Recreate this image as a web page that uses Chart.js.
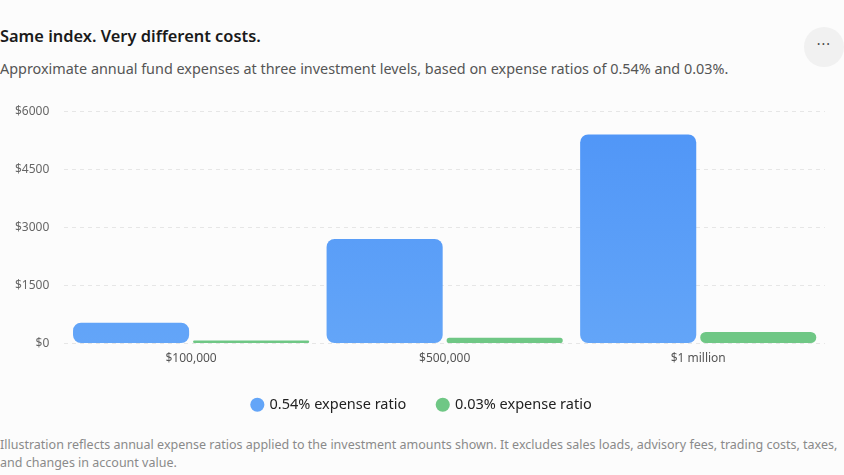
<!DOCTYPE html>
<html>
<head>
<meta charset="utf-8">
<script src="https://cdn.jsdelivr.net/npm/chart.js@4/dist/chart.umd.min.js"></script>
<style>
  html, body { margin: 0; padding: 0; background: #fcfcfc; }
  body { width: 844px; height: 475px; position: relative; overflow: hidden; font-family: "Noto Sans", "Open Sans", sans-serif; }
  h1 { position: absolute; left: 0; top: 24px; margin: 0; font-size: 16.4px; font-weight: 600; color: #1a1a1a; }
  .sub { position: absolute; left: 0; top: 59px; margin: 0; font-size: 14.4px; color: #555; }
  .more { position: absolute; left: 804px; top: 27px; width: 40px; height: 40px; border-radius: 50%; background: #f1f1f1; color: #444; font-size: 14px; line-height: 34px; text-align: center; letter-spacing: 1px; }
  .wrap { position: absolute; left: 0; top: 89px; width: 844px; height: 333px; }
  .note { position: absolute; left: 0; top: 436px; margin: 0; font-size: 12.5px; line-height: 18px; color: #8a8a8a; }
</style>
</head>
<body>
<h1>Same index. Very different costs.</h1>
<p class="sub">Approximate annual fund expenses at three investment levels, based on expense ratios of 0.54% and 0.03%.</p>
<div class="more">···</div>
<div class="wrap"><canvas id="c"></canvas></div>
<p class="note">Illustration reflects annual expense ratios applied to the investment amounts shown. It excludes sales loads, advisory fees, trading costs, taxes,<br>and changes in account value.</p>
<script>
const categories = ['$100,000', '$500,000', '$1 million'];
const highCost = [540, 2700, 5400];   // 0.54% expense ratio
const lowCost = [30, 150, 300];       // 0.03% expense ratio
const seriesNames = ['0.54% expense ratio', '0.03% expense ratio'];
const yTicks = [0, 1500, 3000, 4500, 6000];

function blueFill(ctx) {
  const area = ctx.chart.chartArea;
  if (!area) return '#559bf7';
  const g = ctx.chart.ctx.createLinearGradient(0, area.top, 0, area.bottom);
  g.addColorStop(0, '#4f95f7');
  g.addColorStop(1, '#63a5f8');
  return g;
}

// legend is centred on the whole card, not just the plot
const centreLegend = {
  id: 'centreLegend',
  afterLayout(chart) {
    const lg = chart.legend;
    const shift = (chart.width - (lg.left + lg.right)) / 2;
    lg.left += shift;
    lg.right += shift;
  }
};

const font = { family: '"Noto Sans", "Open Sans", sans-serif' };

new Chart(document.getElementById('c'), {
  type: 'bar',
  data: {
    labels: categories,
    datasets: [
      { label: seriesNames[0], data: highCost, backgroundColor: blueFill },
      { label: seriesNames[1], data: lowCost, backgroundColor: '#6fc785' }
    ]
  },
  options: {
    responsive: true,
    maintainAspectRatio: false,
    animation: false,
    layout: { padding: { left: 0, right: 19, top: 0, bottom: 0 } },
    datasets: {
      bar: {
        categoryPercentage: 0.947,
        barPercentage: 0.967,
        borderRadius: 8,
        borderSkipped: false,
        minBarLength: 3
      }
    },
    scales: {
      x: {
        grid: { display: false },
        border: { display: false },
        ticks: { color: '#555', font: { ...font, size: 12 }, padding: 0 }
      },
      y: {
        min: 0,
        max: 6000,
        afterBuildTicks: axis => { axis.ticks = yTicks.map(v => ({ value: v })); },
        grid: { color: '#e6e6e6', drawTicks: false },
        border: { display: false, dash: [4, 4] },
        ticks: {
          color: '#666',
          font: { ...font, size: 12 },
          padding: 15,
          callback: v => '$' + v
        }
      }
    },
    plugins: {
      legend: {
        position: 'bottom',
        labels: {
          usePointStyle: true,
          pointStyle: 'circle',
          boxWidth: 10,
          boxHeight: 10,
          padding: 31.5,
          color: '#222',
          font: { ...font, size: 14.5 }
        }
      },
      tooltip: { enabled: false }
    }
  },
  plugins: [centreLegend]
});
</script>
</body>
</html>
